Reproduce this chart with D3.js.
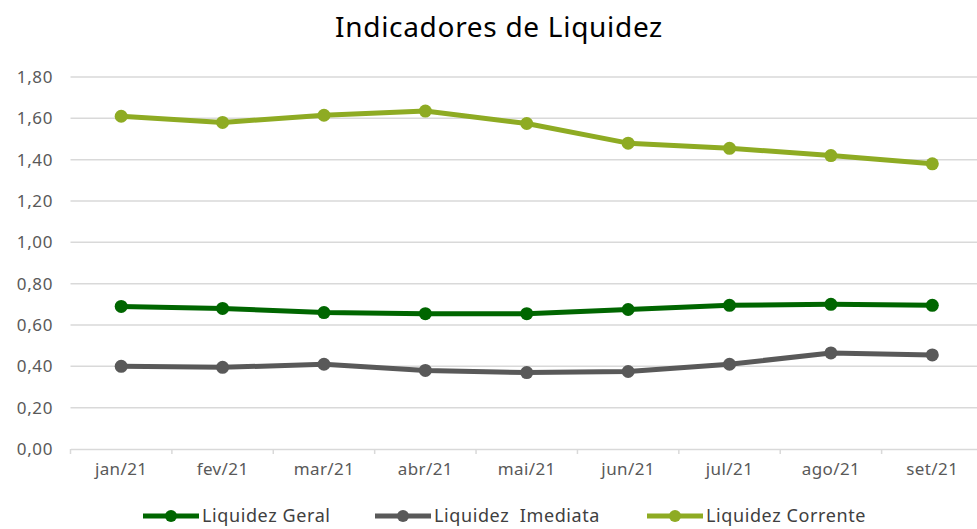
<!DOCTYPE html>
<html>
<head>
<meta charset="utf-8">
<script src="https://cdn.jsdelivr.net/npm/d3@7"></script>
<style>
  body { margin: 0; background: #fff; }
  text { font-family: "Noto Sans", sans-serif; }
</style>
</head>
<body>
<svg id="chart" width="977" height="529"></svg>
<script>
const months = ['jan/21', 'fev/21', 'mar/21', 'abr/21', 'mai/21', 'jun/21', 'jul/21', 'ago/21', 'set/21']
const liqGeral = [0.69, 0.68, 0.66, 0.655, 0.655, 0.675, 0.695, 0.70, 0.695]
const liqImediata = [0.40, 0.395, 0.41, 0.38, 0.37, 0.375, 0.41, 0.465, 0.455]
const liqCorrente = [1.61, 1.58, 1.615, 1.635, 1.575, 1.48, 1.455, 1.42, 1.38]
const yTicks = [0, 0.2, 0.4, 0.6, 0.8, 1.0, 1.2, 1.4, 1.6, 1.8]

const series = [
  { name: 'Liquidez Geral', values: liqGeral, color: '#006600' },
  { name: 'Liquidez  Imediata', values: liqImediata, color: '#595959' },
  { name: 'Liquidez Corrente', values: liqCorrente, color: '#8eab23' }
]

const svg = d3.select('#chart')
const x = d3.scaleBand().domain(months).range([70.5, 983])
const y = d3.scaleLinear().domain([0, 1.8]).range([449, 77])
const fmt = d => d.toFixed(2).replace('.', ',')

// title
svg.append('text')
  .attr('x', 499).attr('y', 37)
  .attr('text-anchor', 'middle')
  .attr('font-size', 28)
  .attr('letter-spacing', 0.7)
  .attr('fill', '#000')
  .text('Indicadores de Liquidez')

// grid
svg.append('g')
  .selectAll('line')
  .data(yTicks.slice(1))
  .join('line')
    .attr('x1', 70.5).attr('x2', 977)
    .attr('y1', d => y(d)).attr('y2', d => y(d))
    .attr('stroke', '#d9d9d9')
    .attr('stroke-width', 1.5)

// y labels
svg.append('g')
  .selectAll('text')
  .data(yTicks)
  .join('text')
    .attr('x', 53)
    .attr('y', d => y(d))
    .attr('dy', '0.35em')
    .attr('text-anchor', 'end')
    .attr('font-size', 17)
    .attr('letter-spacing', 0.6)
    .attr('fill', '#595959')
    .text(fmt)

// x axis
const xAxis = svg.append('g')
  .attr('transform', `translate(0,${y(0)})`)
  .call(d3.axisBottom(x).tickSize(0).tickPadding(14))
xAxis.select('.domain').attr('stroke', '#d9d9d9').attr('stroke-width', 1.5)
xAxis.selectAll('text')
  .attr('font-size', 17)
  .attr('letter-spacing', 0.4)
  .attr('fill', '#595959')
  .style('font-family', '"Noto Sans", sans-serif')
xAxis.selectAll('.bnd')
  .data(months)
  .join('line')
    .attr('class', 'bnd')
    .attr('x1', d => x(d) + x.bandwidth())
    .attr('x2', d => x(d) + x.bandwidth())
    .attr('y1', 0).attr('y2', 5)
    .attr('stroke', '#d9d9d9')
    .attr('stroke-width', 1.5)
xAxis.append('line')
  .attr('x1', 70.5).attr('x2', 70.5).attr('y1', 0).attr('y2', 5)
  .attr('stroke', '#d9d9d9').attr('stroke-width', 1.5)

// lines + markers
const line = d3.line()
  .x((d, i) => x(months[i]) + x.bandwidth() / 2)
  .y(d => y(d))

series.forEach(s => {
  const g = svg.append('g')
  g.append('path')
    .datum(s.values)
    .attr('d', line)
    .attr('fill', 'none')
    .attr('stroke', s.color)
    .attr('stroke-width', 5)
    .attr('stroke-linejoin', 'round')
  g.selectAll('circle')
    .data(s.values)
    .join('circle')
      .attr('cx', (d, i) => x(months[i]) + x.bandwidth() / 2)
      .attr('cy', d => y(d))
      .attr('r', 6.5)
      .attr('fill', s.color)
})

// legend
const legendX = [143, 375, 647]
const legend = svg.append('g')
series.forEach((s, i) => {
  const g = legend.append('g').attr('transform', `translate(${legendX[i]},516)`)
  g.append('line')
    .attr('x1', 0).attr('x2', 56)
    .attr('stroke', s.color).attr('stroke-width', 5)
  g.append('circle')
    .attr('cx', 28).attr('r', 6).attr('fill', s.color)
  g.append('text')
    .attr('x', 59).attr('dy', '0.35em')
    .attr('font-size', 18)
    .attr('letter-spacing', 0.6)
    .attr('fill', '#404040')
    .style('white-space', 'pre')
    .text(s.name)
})
</script>
</body>
</html>
